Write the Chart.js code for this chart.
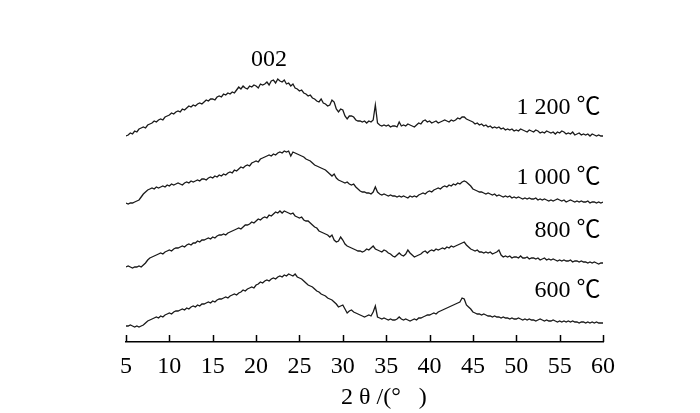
<!DOCTYPE html>
<html>
<head>
<meta charset="utf-8">
<script src="https://cdn.jsdelivr.net/npm/chart.js@4.4.0/dist/chart.umd.min.js"></script>
<style>
  html, body { margin: 0; padding: 0; background: #fff; }
  #wrap { width: 700px; height: 413px; }
</style>
</head>
<body>
<div id="wrap"><canvas id="xrdChart" width="700" height="413"></canvas></div>
<script>
// 2θ from 5 to 60 in 0.25° steps
const angles = [];
for (let a = 5; a <= 60.001; a += 0.25) angles.push(Math.round(a * 100) / 100);

const xTicks = [5, 10, 15, 20, 25, 30, 35, 40, 45, 50, 55, 60];

// intensities (offset, arbitrary units)
const i1200 = [
  206, 207, 209, 208, 211, 210, 213, 214, 215, 214, 217, 218, 219, 221, 220, 222,
  223, 222, 225, 226, 227, 229, 228, 230, 231, 230, 233, 232, 234, 236, 235, 237,
  236, 238, 239, 238, 240, 242, 241, 243, 243, 242, 245, 246, 245, 248, 247, 249,
  248, 250, 249, 252, 255, 253, 256, 254, 253, 256, 255, 257, 256, 254, 258, 257,
  258, 260, 257, 261, 262, 259, 263, 261, 260, 262, 258, 259, 256, 258, 254, 253,
  251, 252, 249, 248, 246, 247, 244, 243, 241, 240, 243, 239, 238, 236, 237, 242,
  240, 233, 230, 233, 232, 226, 223, 226, 226, 225, 222, 221, 221, 220, 221, 219,
  221, 220, 222, 237, 219, 217, 216, 217, 216, 217, 215, 216, 216, 215, 220, 216,
  217, 216, 218, 217, 216, 215, 217, 219, 218, 221, 222, 220, 221, 219, 220, 221,
  219, 220, 221, 222, 221, 220, 222, 221, 222, 224, 223, 225, 225, 223, 222, 221,
  220, 218, 219, 217, 218, 216, 217, 215, 216, 214, 215, 214, 215, 213, 214, 212,
  213, 212, 213, 211, 212, 211, 213, 212, 211, 210, 212, 211, 210, 212, 211, 209,
  210, 209, 211, 210, 209, 210, 208, 210, 209, 211, 210, 208, 209, 208, 210, 207,
  208, 209, 207, 208, 207, 208, 206, 208, 207, 206, 207, 206, 206
];
const i1000 = [
  139, 138, 139, 139, 140, 141, 142, 145, 148, 150, 152, 153, 154, 153, 155, 154,
  155, 156, 155, 157, 156, 158, 157, 158, 159, 158, 157, 159, 160, 159, 161, 160,
  161, 162, 161, 163, 163, 162, 164, 165, 164, 166, 165, 167, 166, 168, 167, 169,
  170, 169, 172, 171, 173, 175, 174, 176, 177, 176, 179, 180, 181, 180, 183, 184,
  185, 186, 187, 186, 188, 187, 189, 190, 189, 191, 190, 191, 186, 190, 189, 188,
  187, 186, 185, 183, 182, 181, 179, 177, 176, 175, 174, 173, 172, 170, 168, 166,
  168, 164, 162, 161, 160, 159, 160, 158, 157, 158, 155, 153, 151, 150, 150, 149,
  149, 148, 150, 155, 150, 148, 147, 148, 147, 146, 147, 146, 146, 145, 146, 145,
  146, 145, 144, 146, 145, 146, 145, 147, 148, 149, 148, 150, 151, 150, 152, 153,
  154, 153, 155, 156, 155, 157, 156, 158, 157, 159, 158, 160, 161, 160, 158, 156,
  153, 152, 151, 150, 150, 149, 148, 149, 148, 147, 148, 146, 147, 146, 145, 146,
  145, 146, 144, 145, 144, 145, 144, 143, 144, 143, 144, 143, 143, 144, 142, 143,
  142, 143, 142, 141, 142, 141, 142, 143, 142, 141, 142, 140, 141, 142, 141, 140,
  141, 140, 141, 140, 140, 141, 139, 140, 140, 139, 140, 139, 140
];
const i800 = [
  75, 76, 75, 74, 75, 75, 76, 75, 77, 79, 82, 84, 85, 86, 87, 88,
  89, 88, 90, 91, 92, 91, 93, 94, 94, 95, 96, 95, 97, 98, 97, 99,
  99, 101, 100, 102, 102, 103, 104, 103, 105, 104, 106, 107, 107, 108, 107, 109,
  110, 111, 112, 113, 114, 113, 115, 117, 117, 118, 120, 119, 121, 123, 122, 124,
  125, 124, 127, 126, 128, 130, 129, 131, 129, 131, 130, 129, 128, 129, 126, 125,
  124, 125, 122, 121, 121, 119, 117, 115, 114, 111, 110, 109, 108, 107, 105, 107,
  102, 100, 101, 105, 102, 98, 96, 95, 94, 93, 92, 91, 91, 90, 91, 93,
  92, 94, 96, 93, 92, 91, 90, 92, 91, 89, 88, 86, 85, 87, 89, 87,
  86, 88, 92, 89, 87, 85, 86, 87, 88, 90, 91, 89, 91, 92, 91, 93,
  92, 93, 94, 93, 95, 94, 96, 95, 96, 97, 98, 99, 100, 97, 95, 93,
  92, 91, 92, 90, 90, 89, 90, 89, 90, 88, 89, 90, 92, 87, 85, 86,
  85, 86, 84, 85, 85, 84, 86, 84, 84, 85, 83, 84, 84, 83, 84, 82,
  83, 84, 82, 83, 82, 83, 82, 81, 82, 81, 82, 81, 81, 82, 80, 81,
  81, 80, 81, 80, 80, 79, 80, 79, 80, 79, 78, 79, 79
];
const i600 = [
  16, 16, 17, 16, 15, 16, 15, 16, 17, 19, 21, 22, 23, 24, 25, 24,
  26, 25, 27, 28, 29, 28, 30, 31, 31, 32, 33, 32, 34, 33, 35, 36,
  35, 37, 36, 38, 38, 39, 40, 39, 41, 40, 42, 43, 43, 44, 45, 44,
  46, 47, 48, 47, 49, 50, 52, 51, 53, 54, 55, 54, 57, 58, 60, 59,
  61, 62, 61, 63, 64, 63, 65, 66, 65, 67, 66, 68, 67, 66, 68, 65,
  64, 63, 61, 59, 57, 56, 55, 53, 51, 50, 48, 47, 46, 44, 43, 42,
  40, 38, 35, 36, 37, 33, 29, 31, 32, 30, 29, 28, 27, 26, 25, 26,
  27, 26, 30, 36, 25, 24, 23, 24, 23, 22, 23, 22, 22, 23, 25, 23,
  22, 23, 22, 21, 22, 23, 22, 24, 24, 25, 26, 27, 27, 28, 29, 28,
  30, 31, 32, 33, 34, 35, 36, 37, 38, 39, 40, 44, 43, 37, 35, 33,
  30, 29, 28, 28, 27, 28, 27, 26, 26, 25, 26, 25, 25, 24, 25, 24,
  24, 23, 24, 23, 23, 24, 23, 22, 23, 22, 23, 22, 22, 21, 22, 23,
  22, 21, 22, 21, 21, 22, 21, 20, 21, 20, 21, 20, 21, 20, 21, 20,
  20, 19, 20, 20, 19, 20, 19, 20, 19, 20, 19, 19, 19
];

const seriesNames = ["1 200 ℃", "1 000 ℃", "800 ℃", "600 ℃"];
const seriesValues = [i1200, i1000, i800, i600];
// where each temperature label sits: [2θ at right edge, level]
const labelAnchors = [[59.7, 234], [59.7, 164], [59.7, 111], [59.7, 51]];
const peakLabel = { text: "002", at: 21.5, level: 282 };
const xTitle = "2 θ /(°   )";

const serif = "'Liberation Serif', 'Times New Roman', 'Noto Sans CJK SC', serif";

const annotate = {
  id: "annotate",
  afterDraw(chart) {
    const { ctx, chartArea } = chart;
    const xs = chart.scales.x;
    const ys = chart.scales.y;
    ctx.save();
    // inward tick marks
    ctx.strokeStyle = "#000";
    ctx.lineWidth = 1.5;
    xTicks.forEach(t => {
      const px = Math.round(xs.getPixelForValue(t)) + 0.5;
      ctx.beginPath();
      ctx.moveTo(px, chartArea.bottom);
      ctx.lineTo(px, chartArea.bottom - 7);
      ctx.stroke();
    });
    ctx.fillStyle = "#000";
    ctx.font = "24px " + serif;
    ctx.textBaseline = "middle";
    ctx.textAlign = "right";
    seriesNames.forEach((name, i) => {
      const [a, lv] = labelAnchors[i];
      ctx.fillText(name, xs.getPixelForValue(a), ys.getPixelForValue(lv));
    });
    ctx.textAlign = "center";
    ctx.fillText(peakLabel.text, xs.getPixelForValue(peakLabel.at), ys.getPixelForValue(peakLabel.level));
    ctx.textAlign = "left";
    ctx.fillText(xTitle, 341, 398);
    ctx.restore();
  }
};

new Chart(document.getElementById("xrdChart").getContext("2d"), {
  type: "line",
  data: {
    datasets: seriesValues.map((vals, i) => ({
      label: seriesNames[i],
      data: angles.map((a, j) => ({ x: a, y: vals[j] })),
      borderColor: "#1a1a1a",
      borderWidth: 1.3,
      pointRadius: 0,
      tension: 0,
      fill: false,
    })),
  },
  options: {
    responsive: false,
    animation: false,
    layout: { padding: { left: 126, right: 97, top: 0, bottom: 0 } },
    plugins: { legend: { display: false }, tooltip: { enabled: false } },
    scales: {
      x: {
        type: "linear",
        min: 5,
        max: 60,
        afterBuildTicks: (s) => { s.ticks = xTicks.map(v => ({ value: v })); },
        afterFit: (s) => { s.height = 71; },
        grid: { display: false, drawTicks: false },
        border: { display: true, color: "#000", width: 1.5 },
        ticks: { color: "#000", padding: 10, maxRotation: 0, autoSkip: false, font: { family: serif, size: 24 } },
      },
      y: {
        display: false,
        min: 0,
        max: 342,
      },
    },
  },
  plugins: [annotate],
});
</script>
</body>
</html>
